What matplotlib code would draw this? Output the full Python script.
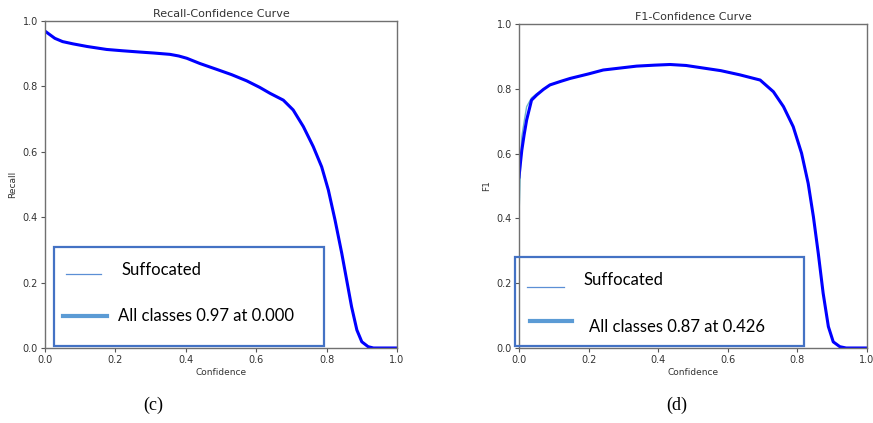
import matplotlib.pyplot as plt
from matplotlib.patches import Rectangle
from matplotlib.lines import Line2D

# Recall-Confidence (c)
recall_conf = [0.0, 0.028, 0.05, 0.08, 0.12, 0.175, 0.22, 0.27, 0.31, 0.355, 0.38, 0.403,
               0.44, 0.488, 0.53, 0.573, 0.61, 0.639, 0.677, 0.705, 0.734, 0.762, 0.786,
               0.805, 0.824, 0.843, 0.857, 0.871, 0.886, 0.90, 0.918, 0.933, 0.96, 1.0]
recall_all = [0.969, 0.947, 0.937, 0.93, 0.922, 0.913, 0.909, 0.905, 0.902, 0.898, 0.893,
              0.886, 0.87, 0.852, 0.836, 0.817, 0.797, 0.779, 0.758, 0.728, 0.677, 0.616,
              0.554, 0.483, 0.391, 0.29, 0.208, 0.126, 0.055, 0.019, 0.004, 0.0, 0.0, 0.0]
recall_class = recall_all

# F1-Confidence (d)
f1_conf = [0.0, 0.004, 0.008, 0.015, 0.022, 0.036, 0.051, 0.07, 0.089, 0.12, 0.147, 0.2,
           0.242, 0.29, 0.338, 0.39, 0.434, 0.48, 0.53, 0.58, 0.635, 0.693, 0.731, 0.76,
           0.788, 0.812, 0.831, 0.846, 0.86, 0.874, 0.889, 0.903, 0.922, 0.94, 0.97, 1.0]
f1_all = [0.528, 0.57, 0.61, 0.66, 0.704, 0.765, 0.781, 0.798, 0.812, 0.823, 0.832, 0.846,
          0.858, 0.864, 0.870, 0.873, 0.875, 0.872, 0.864, 0.856, 0.843, 0.827, 0.791, 0.745,
          0.683, 0.601, 0.508, 0.405, 0.292, 0.169, 0.066, 0.019, 0.004, 0.0, 0.0, 0.0]
f1_class = [0.405, 0.55, 0.652, 0.70, 0.745, 0.772, 0.785, 0.798, 0.812, 0.823, 0.832, 0.846,
            0.858, 0.864, 0.870, 0.873, 0.875, 0.872, 0.864, 0.856, 0.843, 0.827, 0.791, 0.745,
            0.683, 0.601, 0.508, 0.405, 0.292, 0.169, 0.066, 0.019, 0.004, 0.0, 0.0, 0.0]

ticks = [0.0, 0.2, 0.4, 0.6, 0.8, 1.0]

W, H = 873, 423
fig = plt.figure(figsize=(W / 100, H / 100), dpi=100)


def px(x0, y0, x1, y1):
    # pixel box -> figure fraction [left, bottom, width, height]
    return [x0 / W, 1 - y1 / H, (x1 - x0) / W, (y1 - y0) / H]


def setup(ax, title, ylabel):
    ax.set_xlim(0, 1)
    ax.set_ylim(0, 1)
    ax.set_xticks(ticks)
    ax.set_yticks(ticks)
    ax.set_xticklabels([f'{t:.1f}' for t in ticks])
    ax.set_yticklabels([f'{t:.1f}' for t in ticks])
    ax.tick_params(labelsize=7, colors='#555555', labelcolor='#333333', length=3, width=0.8, pad=2)
    for s in ax.spines.values():
        s.set_color('#707070')
        s.set_linewidth(1.0)
    ax.set_title(title, fontsize=8, color='#333333', pad=3)
    ax.set_xlabel('Confidence', fontsize=6.5, color='#333333', labelpad=2)
    ax.set_ylabel(ylabel, fontsize=6.5, color='#333333', labelpad=4)


def legend_box(x0, y0, x1, y1, items):
    fig.patches.append(Rectangle((x0 / W, 1 - y1 / H), (x1 - x0) / W, (y1 - y0) / H,
                                 transform=fig.transFigure, fill=False,
                                 edgecolor='#4472C4', linewidth=1.6, zorder=5))
    for (lx0, lx1, ly, lw, col), (tx, ty, txt) in items:
        fig.lines.append(Line2D([lx0 / W, lx1 / W], [1 - ly / H, 1 - ly / H],
                                transform=fig.transFigure, color=col, linewidth=lw))
        fig.text(tx / W, 1 - ty / H, txt, fontsize=12, family='Lato',
                 va='center', ha='left', color='black')


ax1 = fig.add_axes(px(45, 21, 397, 348))
ax1.plot(recall_conf, recall_class, color='#6fb7c9', linewidth=1.0)
ax1.plot(recall_conf, recall_all, color='#0000ff', linewidth=2.2, solid_joinstyle='round')
setup(ax1, 'Recall-Confidence Curve', 'Recall')

ax2 = fig.add_axes(px(519, 24, 867, 348))
ax2.plot(f1_conf, f1_class, color='#6fb7c9', linewidth=1.0)
ax2.plot(f1_conf, f1_all, color='#0000ff', linewidth=2.2, solid_joinstyle='round')
setup(ax2, 'F1-Confidence Curve', 'F1')

legend_box(54, 247, 324, 346, [
    ((66, 101, 274, 0.9, '#5B8FD5'), (121, 270, 'Suffocated')),
    ((63, 107, 316, 3.0, '#5B9BD5'), (118, 316, 'All classes 0.97 at 0.000')),
])
legend_box(515, 257, 804, 346, [
    ((527, 564, 287, 0.9, '#5B8FD5'), (583, 280, 'Suffocated')),
    ((530, 572, 321, 3.0, '#5B9BD5'), (589, 327, 'All classes 0.87 at 0.426')),
])

fig.text(153 / W, 1 - 405 / H, '(c)', fontsize=13, family='Liberation Serif', ha='center', va='center')
fig.text(677 / W, 1 - 405 / H, '(d)', fontsize=13, family='Liberation Serif', ha='center', va='center')

fig.savefig('out.png', dpi=100)
